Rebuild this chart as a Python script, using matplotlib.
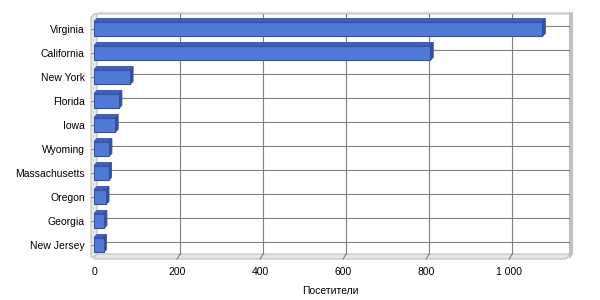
import matplotlib
matplotlib.use('Agg')
import matplotlib.pyplot as plt
from matplotlib.patches import Polygon
from matplotlib.lines import Line2D
from matplotlib.transforms import IdentityTransform
from matplotlib.ticker import FuncFormatter

# data
states = ['Virginia', 'California', 'New York', 'Florida', 'Iowa',
          'Wyoming', 'Massachusetts', 'Oregon', 'Georgia', 'New Jersey']
visitors = [1080, 810, 87, 60, 51, 36, 35, 29, 24, 23]
x_ticks = [0, 200, 400, 600, 800, 1000]
x_label = 'Посетители'

plt.rcParams['font.family'] = ['Liberation Sans', 'DejaVu Sans']
plt.rcParams['font.size'] = 7.5

front_col = '#4f7ad8'
top_col = '#3f62c0'
side_col = '#34529f'
edge_col = '#3150a6'
grid_col = '#808080'
wall_col = '#e6e6e6'
wall_edge = '#c0c0c0'

fig = plt.figure(figsize=(6, 3), dpi=100)
ax = fig.add_axes([94 / 600, 43 / 300, 472 / 600, 240 / 300])
d = 3  # 3d depth in pixels

pos = list(range(len(states)))
ax.set_xlim(0, 1137)
ax.set_ylim(len(states) - 0.5, -0.5)
for s in ax.spines.values():
    s.set_visible(False)

ident = IdentityTransform()


def px(x, y):
    return ax.transData.transform((x, y))


# axes corners in pixels
(x0, y0) = ax.transAxes.transform((0, 0))
(x1, y1) = ax.transAxes.transform((1, 1))

# left wall
ax.add_patch(Polygon([(x0 - 3, y0), (x0 - 3, y1), (x0, y1 + d), (x0 + d, y1 + d),
                      (x0 + d, y0 + d), (x0, y0)],
                     closed=True, facecolor=wall_col, edgecolor=wall_edge, lw=0.8,
                     joinstyle='miter', transform=ident, clip_on=False, zorder=0.5))
# floor
ax.add_patch(Polygon([(x0, y0 - 2), (x1, y0 - 2), (x1 + d, y0 + d - 2), (x1 + d, y0 + d),
                      (x0 + d, y0 + d), (x0, y0)],
                     closed=True, facecolor=wall_col, edgecolor=wall_edge, lw=0.8,
                     joinstyle='miter', transform=ident, clip_on=False, zorder=0.5))
# back wall top and right edge
ax.add_line(Line2D([x0 + d, x1 + d], [y1 + d + 1, y1 + d + 1], color='#d0d0d0', lw=1.8,
                   transform=ident, clip_on=False, zorder=0.6))
ax.add_patch(Polygon([(x1 + d, y0), (x1 + d, y1 + d + 2), (x1 + d + 4, y1 + d + 2),
                      (x1 + d + 4, y0 + d), (x1 + d + 1, y0 - 2)],
                     closed=True, facecolor='#c0c0c0', edgecolor='none',
                     transform=ident, clip_on=False, zorder=0.6))

# gridlines on the back wall
for t in x_ticks[1:]:
    (gx, _) = px(t, 0)
    ax.add_line(Line2D([gx + d, gx + d], [y0 + d, y1 + d], color=grid_col, lw=0.8,
                       transform=ident, clip_on=False, zorder=1))
    ax.add_line(Line2D([gx, gx + d], [y0 - 2, y0 + d], color=grid_col, lw=0.8,
                       transform=ident, clip_on=False, zorder=1))
for p in pos:
    (_, gy) = px(0, p)
    ax.add_line(Line2D([x0 + d, x1 + d], [gy + d, gy + d], color=grid_col, lw=0.8,
                       transform=ident, clip_on=False, zorder=1))

# bars: front faces
bar_h = 0.62
ax.barh(pos, visitors, height=bar_h, color=front_col, edgecolor=edge_col,
        linewidth=0.8, zorder=4)
# bars: top and side faces
for p, v in zip(pos, visitors):
    (bx0, by_top) = px(0, p - bar_h / 2)
    (bx1, by_bot) = px(v, p + bar_h / 2)
    ax.add_patch(Polygon([(bx0, by_top), (bx1, by_top), (bx1 + d, by_top + d),
                          (bx0 + d, by_top + d)], closed=True, facecolor=top_col,
                         edgecolor=edge_col, lw=0.6, transform=ident, clip_on=False,
                         zorder=3))
    ax.add_patch(Polygon([(bx1, by_bot), (bx1, by_top), (bx1 + d, by_top + d),
                          (bx1 + d, by_bot + d)], closed=True, facecolor=side_col,
                         edgecolor=edge_col, lw=0.6, transform=ident, clip_on=False,
                         zorder=3))

ax.set_yticks(pos)
ax.set_yticklabels(states)
ax.set_xticks(x_ticks)
ax.xaxis.set_major_formatter(FuncFormatter(lambda v, _: f'{int(v):,}'.replace(',', ' ')))
ax.tick_params(axis='y', length=2.5, color=grid_col, pad=4.2, labelcolor='black')
ax.tick_params(axis='x', length=0, pad=7, labelcolor='black')
ax.set_xlabel(x_label, labelpad=7)

fig.savefig('out.png', dpi=100)
